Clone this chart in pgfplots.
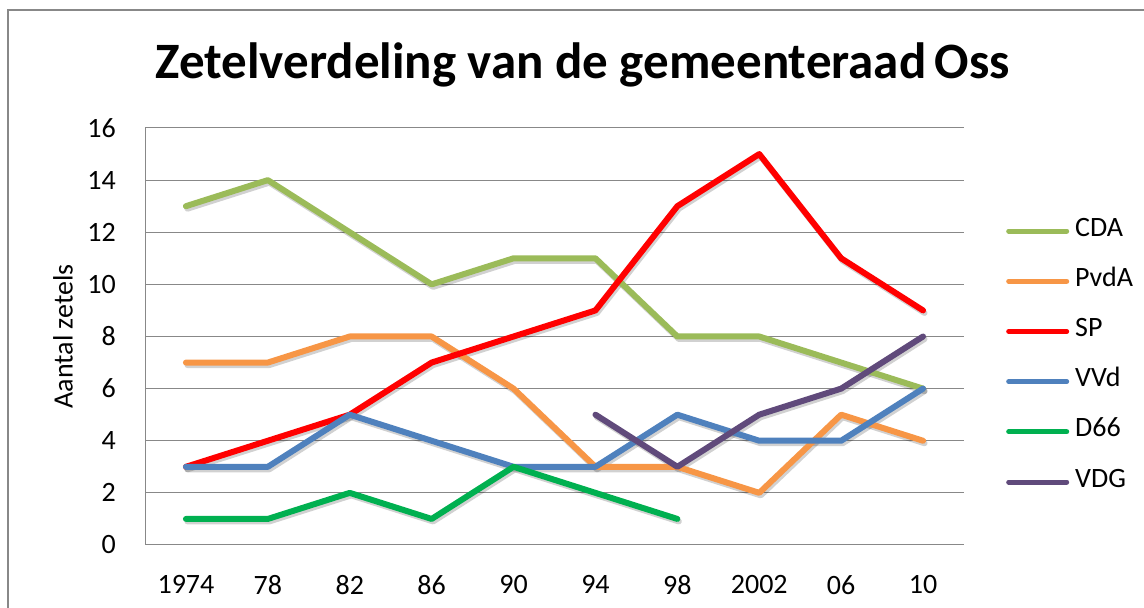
\documentclass[border=0pt]{standalone}
\usepackage{fontspec}
\setmainfont{Carlito}
\usepackage{pgfplots}
\usepackage{pgfplotstable}
\pgfplotsset{compat=1.18}
\definecolor{cda}{HTML}{9BBB59}
\definecolor{pvda}{HTML}{F79646}
\definecolor{sp}{HTML}{FF0000}
\definecolor{vvd}{HTML}{4F81BD}
\definecolor{dzes}{HTML}{00B050}
\definecolor{vdg}{HTML}{604A7B}
\definecolor{gridc}{HTML}{888888}
\pgfplotstableread{
x CDA PvdA SP VVd D66 VDG
0 13 7 3 3 1 nan
1 14 7 4 3 1 nan
2 12 8 5 5 2 nan
3 10 8 7 4 1 nan
4 11 6 8 3 3 nan
5 11 3 9 3 2 5
6 8 3 13 5 1 3
7 8 2 15 4 nan 5
8 7 5 11 4 nan 6
9 6 4 9 6 nan 8
}\zetels
\begin{document}
\begin{tikzpicture}
\useasboundingbox (0,0) rectangle (1144pt,608pt);
\begin{scope}
\clip (0,0) rectangle (1144pt,608pt);
\node[anchor=base west, inner sep=0pt, text=vvd!80!black, font=\bfseries\fontsize{26}{30}\selectfont] at (2pt,612pt) {g};
\end{scope}
\draw[gridc, line width=2pt] (8pt,0pt) -- (8pt,598pt) -- (1150pt,598pt);
\node[anchor=base, inner sep=0pt, font=\bfseries\fontsize{51}{55}\selectfont] at (583pt,529pt) {Zetelverdeling van de gemeenteraad\hspace{-3pt} Oss};
\begin{axis}[
  at={(145pt,63pt)}, anchor=south west,
  scale only axis, width=819pt, height=417pt,
  xmin=-0.5, xmax=9.5, ymin=0, ymax=16,
  xtick={0,...,9},
  xticklabels={1974,78,82,86,90,94,98,2002,06,10},
  ytick={0,2,...,16},
  /pgf/number format/assume math mode=true,
  tick style={draw=none},
  axis line style={gridc, line width=1pt},
  axis x line*=bottom, axis y line*=left,
  ymajorgrids, grid style={gridc, line width=1pt},
  ticklabel style={font=\fontsize{28}{32}\selectfont, inner sep=0pt},
  yticklabel style={anchor=east, xshift=-29pt},
  xticklabel style={anchor=north, yshift=-30pt},
  ylabel={Aantal zetels},
  ylabel style={font=\fontsize{28}{32}\selectfont, at={(axis description cs:-0.1,0.5)}, anchor=center},
  legend style={draw=none, at={(axis description cs:1.0476,0.452)}, anchor=west,
    font=\fontsize{28}{32}\selectfont, row sep=30.2pt,
    nodes={inner sep=0pt, text height=15pt, text depth=5pt}},
  legend cell align=left,
  legend image code/.code={\draw[#1, line width=5pt, line cap=round] (0pt,0pt) -- (58pt,0pt);},
  every axis plot/.append style={line width=6pt, line join=round, line cap=round},
  shadow/.style={black, opacity=0.18, xshift=1.5pt, yshift=-2.5pt, forget plot},
]
\foreach \c in {CDA,PvdA,SP,VVd,D66,VDG}{
  \addplot[shadow] table[x=x, y=\c] {\zetels};
}
\addplot[cda] table[x=x, y=CDA] {\zetels};
\addlegendentry{\hspace{6pt}CDA}
\addplot[pvda] table[x=x, y=PvdA] {\zetels};
\addlegendentry{\hspace{6pt}PvdA}
\addplot[sp] table[x=x, y=SP] {\zetels};
\addlegendentry{\hspace{6pt}SP}
\addplot[vvd] table[x=x, y=VVd] {\zetels};
\addlegendentry{\hspace{6pt}VVd}
\addplot[dzes] table[x=x, y=D66] {\zetels};
\addlegendentry{\hspace{6pt}D66}
\addplot[vdg] table[x=x, y=VDG] {\zetels};
\addlegendentry{\hspace{6pt}VDG}
\end{axis}
\end{tikzpicture}
\end{document}
